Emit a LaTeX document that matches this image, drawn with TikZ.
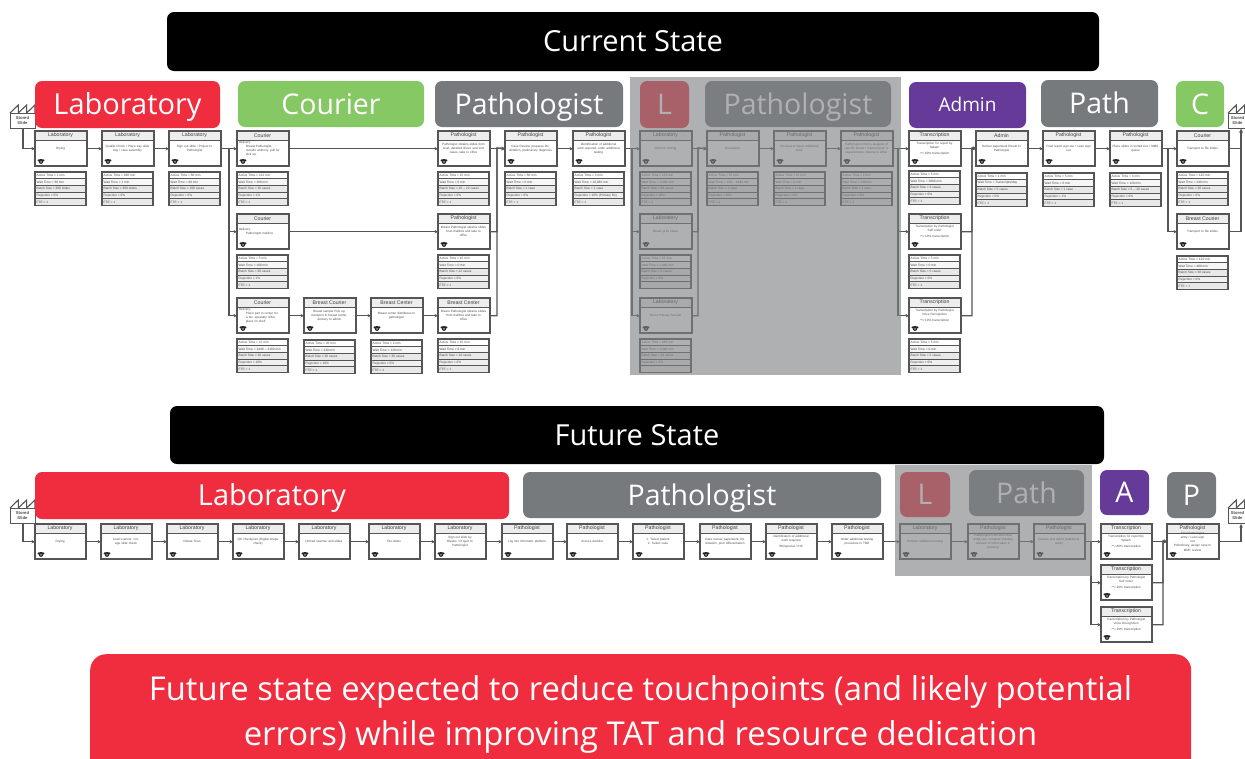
\documentclass[tikz,border=0pt]{standalone}
\usepackage{fontspec}
\setmainfont{Open Sans}
\newfontfamily\smallf{Liberation Sans}
\usetikzlibrary{arrows.meta}
\definecolor{cred}{HTML}{EF2D3E}
\definecolor{cgreen}{HTML}{86C864}
\definecolor{cgray}{HTML}{767A7D}
\definecolor{cpurple}{HTML}{653A98}
\definecolor{cline}{HTML}{555555}
\definecolor{cshade}{HTML}{7E8183}
\definecolor{ctitle}{HTML}{EDEDED}
\definecolor{crow}{HTML}{E8E8E8}
\newcount\nn
\tikzset{
 pbox/.style={draw=cline,line width=1.4pt,fill=white,inner sep=0pt,anchor=north west},
 tbar/.style={draw=cline,line width=0.9pt,fill=ctitle},
 titletxt/.style={font=\smallf\fontsize{5.2}{6}\selectfont,text=black!75,inner sep=0pt},
 bodytxt/.style={font=\smallf\fontsize{3.1}{4.2}\selectfont,text=black!70,inner sep=0pt,text width=47pt,align=center},
 rowbox/.style={draw=cline,line width=1.1pt},
 rowtxt/.style={font=\smallf\fontsize{3.2}{4}\selectfont,text=black!70,inner sep=0pt,anchor=west},
 conn/.style={draw=cline,line width=1.2pt,-{Stealth[length=3.5pt,width=3.5pt]}},
 hdr/.style={rounded corners=7pt,inner sep=0pt,text=white},
 shade/.style={fill=cshade,fill opacity=.62,draw=none},
 slidebox/.style={draw=cline,line width=1.1pt,fill=white,inner sep=0pt,anchor=north west,minimum width=25pt,minimum height=15pt},
 slidetxt/.style={align=center,inner sep=0pt,font=\smallf\bfseries\fontsize{4.2}{5.2}\selectfont,text=black!70},
}
% process box: [body options]{name}{x}{y}{w}{h}{title}{body}
\newcommand{\pb}[8][]{%
 \global\advance\nn by 1
 \node[pbox,minimum width=#5,minimum height=#6] (#2) at (#3,#4) {};
 \draw[tbar] (#3,#4) rectangle (#3+#5,#4+9);
 \node[titletxt,name=t\the\nn] at (#3+#5/2,#4+4.5) {#7};
 \node[bodytxt,name=b\the\nn,#1] at (#3+#5/2,#4+17.5) {#8};
 \fill[black!85] (#3+6,#4+#6-4.6) ellipse (3.6pt and 1.3pt);
 \fill[black!85] (#3+6,#4+#6-3.3) circle (2.2pt);
 \fill[white] (#3+6,#4+#6-3.1) circle (0.7pt);
 \draw[cline,line width=1.4pt] (#2.north west) rectangle (#2.south east);
}
\newcommand{\trow}[5]{%
 \global\advance\nn by 1
 \draw[rowbox,fill=#4] (#1,#2) rectangle (#1+#3,#2+6.7);
 \node[rowtxt,name=r\the\nn] at (#1+1.5,#2+3.35) {#5};
}
% table: {x}{y}{w}{active}{wait}{batch}{rejection}{fte}
\newcommand{\tb}[8]{%
 \trow{#1}{#2}{#3}{white}{Active Time = #4}
 \trow{#1}{#2+6.7}{#3}{crow!40}{Wait Time = #5}
 \trow{#1}{#2+13.4}{#3}{crow}{Batch Size = #6}
 \trow{#1}{#2+20.1}{#3}{crow!70}{Rejection = #7}
 \def\tmpfte{#8}%
 \trow{#1}{#2+26.8}{#3}{crow}{\ifx\tmpfte\empty\else FTE = #8\fi}
}
% header: {name}{x1}{y1}{x2}{y2}{colour}{font size}{text}
\newcommand{\hd}[8]{%
 \node[hdr,fill=#6,minimum width=#4-#2,minimum height=#5-#3,text height=0.714*#7,text depth=0pt,font=\fontsize{#7}{#7}\selectfont] (#1) at ({(#2+#4)/2},{(#3+#5)/2}) {#8};
}
% stored-slide icon: {name}{x}{y}{text centre x}
\newcommand{\slide}[4]{%
 \global\advance\nn by 1
 \draw[cline,line width=1.1pt] (#2,#3) -- ++(8.3,-8) -- ++(0,8) -- ++(8.3,-8) -- ++(0,8) -- ++(8.4,-8) -- ++(0,8);
 \node[slidebox] (#1) at (#2,#3) {};
 \node[slidetxt,name=s\the\nn] at (#4,#3+7.5) {Stored\\Slide};
}
\begin{document}
\begin{tikzpicture}[x=1pt,y=-1pt]
\clip (0,0) rectangle (1245,758);
\fill[white] (0,0) rectangle (1245,758);

% ---------- icons ----------
\slide{sa}{10}{113}{22.5}
\slide{sb}{1228}{113}{1237.5}
\slide{sc}{10}{508}{22.5}
\slide{sd}{1228}{508}{1237.5}

% ---------- headers, current ----------
\hd{hcur}{167}{12}{1099}{71}{black}{29}{Current State}
\hd{h1}{35}{81}{220}{128}{cred}{29}{Laboratory}
\hd{h2}{238}{81}{424}{127}{cgreen}{28.5}{Courier}
\hd{h3}{435}{81}{623}{127}{cgray}{28.5}{Pathologist}
\hd{h4}{640}{81}{689}{128}{cred}{28.5}{L}
\hd{h5}{705}{81}{891}{127}{cgray}{28.5}{Pathologist}
\hd{h6}{909}{82}{1026}{128}{cpurple}{19}{Admin}
\hd{h7}{1041}{80}{1158}{127}{cgray}{28.5}{Path}
\hd{h8}{1176}{81}{1224}{127}{cgreen}{28.5}{C}

% ---------- boxes, current ----------
\pb{a1}{35}{131}{51}{34}{Laboratory}{Drying}
\tb{35}{172}{51}{1 min}{60 min}{300 slides}{0\%}{1}
\pb{a2}{102}{131}{51}{34}{Laboratory}{Quality Check / Place tray slide\\tray / case assembly}
\tb{102}{172}{51}{180 min}{1 min}{300 slides}{0\%}{1}
\pb{a3}{169}{131}{51}{34}{Laboratory}{Sign out slide / Project to\\Pathologist}
\tb{169}{172}{51}{60 min}{60 min}{100 cases}{0\%}{1}

\pb[align=left]{c1}{237}{131}{51}{34}{Courier}{Delivery:\\\hspace*{7pt}Breast Pathologist,\\\hspace*{7pt}outside Anthony, pull for\\\hspace*{7pt}pick up.}
\tb{237}{172}{51}{132 min}{360 min}{30 cases}{1\%}{1}
\pb[align=left]{c2}{237}{214}{51}{34}{Courier}{Delivery:\\\hspace*{7pt}Pathologist mailbox}
\tb{237}{255}{51}{5 min}{180 min}{30 cases}{1\%}{1}
\pb[align=left]{c3}{237}{298}{51}{34}{Courier}{Delivery:\\\hspace*{7pt}Place part in center for\\\hspace*{7pt}a fax, specialty order,\\\hspace*{7pt}place on shelf}
\tb{237}{339}{51}{12 min}{1440 -- 2160 min}{30 cases}{10\%}{1}
\pb{bc1}{304}{298}{51}{34}{Breast Courier}{Breast sample Pick up,\\transport to breast center,\\delivery to admin}
\tb{304}{340}{51}{20 min}{240 min}{30 cases}{10\%}{1}
\pb{bc2}{371}{298}{51}{34}{Breast Center}{Breast center distributes to\\pathologist}
\tb{371}{340}{51}{2 min}{120 min}{30 cases}{0\%}{1}

\pb{p1}{438}{131}{51}{34}{Pathologist}{Pathologist obtains slides from\\level, detailed sheet, and sort\\cases, take to office}
\tb{438}{172}{51}{15 min}{0 min}{10 -- 12 cases}{0\%}{1}
\pb{p2}{438}{214}{51}{34}{Pathologist}{Breast Pathologist obtains slides\\from mailbox and take to\\office}
\tb{438}{255}{51}{15 min}{0 min}{12 cases}{0\%}{1}
\pb{p3}{438}{298}{51}{34}{Breast Center}{Breast Pathologist obtains slides\\from mailbox and take to\\office}
\tb{438}{339}{51}{15 min}{0 min}{10 cases}{0\%}{1}
\pb{p4}{505}{131}{51}{34}{Pathologist}{Case Review, prepares Dx,\\dictation, preliminary diagnosis}
\tb{505}{172}{51}{60 min}{0 min}{1 case}{0\%}{1}
\pb{p5}{573}{131}{51}{34}{Pathologist}{Identification of additional\\work required, order additional\\testing}
\tb{573}{172}{51}{3 min}{10,080 min}{1 case}{10\% (Primary Dx)}{1}

\pb{l1}{640}{131}{51}{34}{Laboratory}{Perform Testing}
\tb{640}{172}{51}{120 min}{1,440 min}{30 cases}{10\%}{1}
\pb{l2}{640}{214}{51}{34}{Laboratory}{Obtain prior slides}
\tb{640}{255}{51}{15 min}{1,440 min}{5 cases}{0\%}{}
\pb{l3}{640}{298}{51}{34}{Laboratory}{Recut Primary Sample}
\tb{640}{339}{51}{180 min}{1,440 min}{30 cases}{0\%}{}
\pb{q1}{707}{131}{51}{34}{Pathologist}{Reanalyze}
\tb{707}{172}{51}{15 min}{120 -- 1440 min}{1 case}{10\%}{1}
\pb{q2}{774}{131}{51}{34}{Pathologist}{Reviews \& report additional\\work}
\tb{774}{172}{51}{15 min}{0 min}{1 case}{0\%}{1}
\pb{q3}{841}{131}{51}{34}{Pathologist}{Pathologist informs analysis of\\specific breast / internal peer or\\requirements, returns to office}
\tb{841}{172}{51}{2 min}{120 min}{1 case}{0\%}{1}

\pb{t1}{909}{131}{51}{34}{Transcription}{Transcription for report by\\Splash\\[2pt]$\sim$80\% transcription}
\tb{909}{171}{51}{5 min}{2880 min}{3 cases}{0\%}{1}
\pb{t2}{909}{214}{51}{34}{Transcription}{Transcription by Pathologist\\Self order\\[2pt]$\sim$10\% transcription}
\tb{909}{255}{51}{5 min}{0 min}{5 cases}{0\%}{1}
\pb{t3}{909}{298}{51}{34}{Transcription}{Transcription by Pathologist\\Voice Recognition\\[2pt]$\sim$10\% transcription}
\tb{909}{339}{51}{5 min}{0 min}{5 cases}{0\%}{1}
\pb{ad}{976}{131}{51}{34}{Admin}{Deliver paperwork Result to\\Pathologist}
\tb{976}{173}{51}{1 min}{Transcripts/day}{5 cases}{0\%}{1}
\pb{f1}{1043}{131}{51}{34}{Pathologist}{Final report sign-out / Lean sign\\out}
\tb{1043}{173}{51}{5 min}{0 min}{1 case}{1\%}{1}
\pb{f2}{1110}{131}{51}{34}{Pathologist}{Place slides in sorted box / MMS\\queue}
\tb{1110}{173}{51}{3 min}{120 min}{5 -- 20 cases}{0\%}{1}
\pb{cr}{1177}{131}{51}{34}{Courier}{Transport to file slides}
\tb{1177}{172}{51}{120 min}{240 min}{30 cases}{0\%}{1}
\pb{cs}{1177}{214}{51}{34}{Breast Courier}{Transport to file slides}
\tb{1177}{256}{51}{120 min}{480 min}{30 cases}{0\%}{1}

% ---------- connector junctions, current ----------
\coordinate (j1) at (229,148);
\coordinate (j2) at (497,148);
\coordinate (j3) at (632,148);
\coordinate (j4) at (698,148);
\coordinate (j5) at (898,148);
\coordinate (j6) at (972,148);
\coordinate (j7) at (1168,148);

\draw[conn] (sa.south) |- (a1.west);
\draw[conn] (a1.east) -- (a2.west);
\draw[conn] (a2.east) -- (a3.west);
\draw[conn] (a3.east) -- (c1.west);
\draw[conn] (j1) |- (c2.west);
\draw[conn] (j1) |- (c3.west);
\draw[conn] (c1.east) -- (p1.west);
\draw[conn] (c2.east) -- (p2.west);
\draw[conn] (c3.east) -- (bc1.west);
\draw[conn] (bc1.east) -- (bc2.west);
\draw[conn] (bc2.east) -- (p3.west);
\draw[conn] (p1.east) -- (p4.west);
\draw[conn] (p2.east) -| (j2) -- (p4.west);
\draw[conn] (p3.east) -| (j2) -- (p4.west);
\draw[conn] (p4.east) -- (p5.west);
\draw[conn] (p5.east) -- (l1.west);
\draw[conn] (j3) |- (l2.west);
\draw[conn] (j3) |- (l3.west);
\draw[conn] (l1.east) -- (q1.west);
\draw[conn] (l2.east) -| (j4) -- (q1.west);
\draw[conn] (l3.east) -| (j4) -- (q1.west);
\draw[conn] (q1.east) -- (q2.west);
\draw[conn] (q2.east) -- (q3.west);
\draw[conn] (q3.east) -- (t1.west);
\draw[conn] (j5) |- (t2.west);
\draw[conn] (j5) |- (t3.west);
\draw[conn] (t1.east) -- (ad.west);
\draw[conn] (t2.east) -| (j6) -- (ad.west);
\draw[conn] (t3.east) -| (j6) -- (ad.west);
\draw[conn] (ad.east) -- (f1.west);
\draw[conn] (f1.east) -- (f2.west);
\draw[conn] (f2.east) -- (cr.west);
\draw[conn] (j7) |- (cs.west);
\draw[conn] (cr.east) -| (sb.south);
\draw[conn] (cs.east) -| (sb.south);

% ---------- shade, current ----------
\fill[shade] (630,77) rectangle (901,375);

% ---------- headers, future ----------
\hd{hfut}{170}{406}{1104}{464}{black}{29}{Future State}
\hd{g1}{35}{472}{509}{519}{cred}{29}{Laboratory}
\hd{g2}{523}{472}{881}{518}{cgray}{28.5}{Pathologist}
\hd{g3}{900}{472}{950}{517}{cred}{28.5}{L}
\hd{g4}{969}{470}{1084}{516}{cgray}{28.5}{Path}
\hd{g5}{1100}{470}{1149}{515}{cpurple}{28.5}{A}
\hd{g6}{1167}{472}{1216}{518}{cgray}{28.5}{P}

% ---------- boxes, future ----------
\pb{u1}{35}{524}{50}{34}{Laboratory}{Drying}
\pb{u2}{101}{524}{50}{34}{Laboratory}{Load scanner / Image slide check}
\pb{u3}{167}{524}{50}{34}{Laboratory}{Initiate Scan}
\pb{u4}{233}{524}{50}{34}{Laboratory}{QC checkpoint (Digital image\\check)}
\pb{u5}{299}{524}{50}{34}{Laboratory}{Unload scanner and slides}
\pb{u6}{369}{524}{50}{34}{Laboratory}{File slides}
\pb{u7}{435}{524}{50}{34}{Laboratory}{Sign out slide by Breaks / Project to\\Pathologist}
\pb{v1}{502}{524}{50}{34}{Pathologist}{Log into informatic platform}
\pb{v2}{567}{524}{50}{34}{Pathologist}{Access worklist}
\pb{v3}{633}{524}{50}{34}{Pathologist}{1. Select patient\\2. Select case}
\pb{v4}{700}{524}{50}{34}{Pathologist}{Case review, paperwork, Dx,\\dictation, prior differentiation}
\pb{v5}{766}{524}{50}{34}{Pathologist}{Identification of additional\\work required\\[2pt]IHC/special / IHC}
\pb{v6}{832}{524}{50}{34}{Pathologist}{Order additional testing\\procedure in TBD}
\pb{w1}{900}{524}{50}{34}{Laboratory}{Perform additional testing}
\pb{w2}{968}{524}{50}{34}{Pathologist}{Pathologist notification that\\test(s) are complete initiating\\retrieval of information in\\pending}
\pb{w3}{1034}{524}{50}{34}{Pathologist}{Review and report (additional\\work)}
\pb{x1}{1101}{524}{50}{34}{Transcription}{Transcription for report by\\Splash\\[2pt]$\sim$80\% transcription}
\pb{x2}{1101}{565}{50}{34}{Transcription}{Transcription by Pathologist\\Self order\\[2pt]$\sim$10\% transcription}
\pb{x3}{1101}{607}{50}{34}{Transcription}{Transcription by Pathologist\\Voice Recognition\\[2pt]$\sim$10\% transcription}
\pb{y1}{1167}{524}{51}{34}{Pathologist}{Final Pathologist entry / Lean sign\\out\\Preliminary, assign case to\\MMT review}

% ---------- connectors, future ----------
\coordinate (k1) at (1091,541);
\coordinate (k2) at (1163,541);
\draw[conn] (sc.south) |- (u1.west);
\draw[conn] (u1.east) -- (u2.west);
\draw[conn] (u2.east) -- (u3.west);
\draw[conn] (u3.east) -- (u4.west);
\draw[conn] (u4.east) -- (u5.west);
\draw[conn] (u5.east) -- (u6.west);
\draw[conn] (u6.east) -- (u7.west);
\draw[conn] (u7.east) -- (v1.west);
\draw[conn] (v1.east) -- (v2.west);
\draw[conn] (v2.east) -- (v3.west);
\draw[conn] (v3.east) -- (v4.west);
\draw[conn] (v4.east) -- (v5.west);
\draw[conn] (v5.east) -- (v6.west);
\draw[conn] (v6.east) -- (w1.west);
\draw[conn] (w1.east) -- (w2.west);
\draw[conn] (w2.east) -- (w3.west);
\draw[conn] (w3.east) -- (x1.west);
\draw[conn] (k1) |- (x2.west);
\draw[conn] (k1) |- (x3.west);
\draw[conn] (x1.east) -- (y1.west);
\draw[conn] (x2.east) -| (k2) -- (y1.west);
\draw[conn] (x3.east) -| (k2) -- (y1.west);
\draw[conn] (y1.east) -| (sd.south);

% ---------- shade, future ----------
\fill[shade] (895,465) rectangle (1092,576);

% ---------- call-out ----------
\node[hdr,fill=cred,rounded corners=16pt,minimum width=1101,minimum height=130,anchor=north west] (msg) at (90,654) {};
\node[text=white,font=\fontsize{32.8}{45}\selectfont,align=center,inner sep=0pt,name=msgtxt] at (640.5,714) {Future state expected to reduce touchpoints (and likely potential\\errors) while improving TAT and resource dedication};
\end{tikzpicture}
\end{document}
